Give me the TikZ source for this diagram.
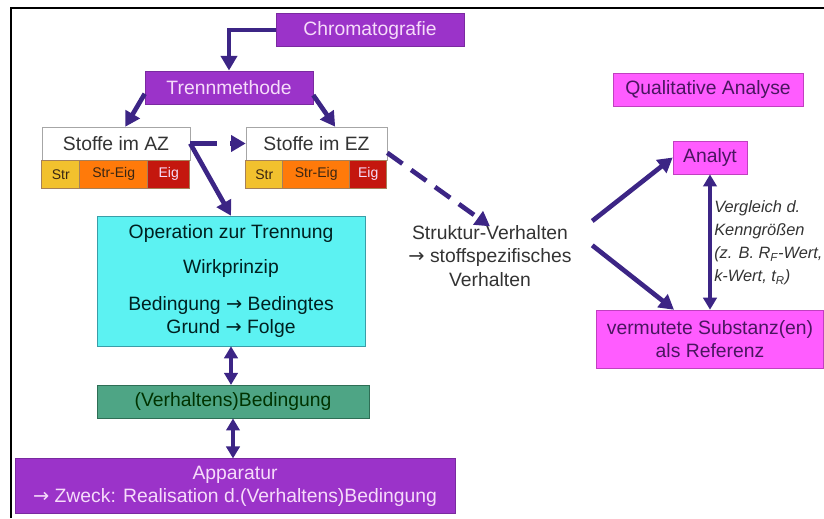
\documentclass[tikz,border=0pt]{standalone}
\usepackage{fontspec}
\setmainfont{Liberation Sans}
\newfontfamily\arrowfont{DejaVu Sans}
\usepackage{tikz}
\usetikzlibrary{arrows.meta, positioning}
\definecolor{chrompurple}{HTML}{9B33C9}
\definecolor{chromedge}{HTML}{7A2AA0}
\definecolor{pinktext}{HTML}{F6DCFA}
\definecolor{magentabox}{HTML}{FF5CFF}
\definecolor{magentaedge}{HTML}{C040C0}
\definecolor{darkviolet}{HTML}{4A1660}
\definecolor{cyanbox}{HTML}{5CF2F2}
\definecolor{cyanedge}{HTML}{3A9EA8}
\definecolor{greenbox}{HTML}{4EA585}
\definecolor{greenedge}{HTML}{2E6E55}
\definecolor{arrowblue}{HTML}{3C2585}
\definecolor{strcol}{HTML}{F2C12E}
\definecolor{streigcol}{HTML}{FF7A0A}
\definecolor{eigcol}{HTML}{C4170E}
\newcommand\bigtxt{\fontsize{14.5}{17.4}\selectfont}
\newcommand\bartxt{\fontsize{10.5}{12}\selectfont}
\newcommand\notetxt{\fontsize{12.3}{17.3}\selectfont\itshape}
\newcommand\toarr{{\arrowfont →}}

\begin{document}
\begin{tikzpicture}[
    x=0.75pt, y=-0.75pt,
    every node/.style={font=\bigtxt},
    purplebox/.style={rectangle, draw=chromedge, fill=chrompurple, text=pinktext, minimum height=25pt, inner sep=2pt},
    pinkbox/.style={rectangle, draw=magentaedge, fill=magentabox, text=darkviolet, minimum height=25pt, inner sep=2pt},
    whitebox/.style={rectangle, draw=gray!70, fill=white, text=black!80, minimum height=24.75pt},
    opbox/.style={rectangle, draw=cyanedge, fill=cyanbox, text=black!75!teal, align=center},
    greenbox/.style={rectangle, draw=greenedge, fill=greenbox, text=black!80!green, minimum height=24.75pt},
    colbar/.style={rectangle, draw=brown!60!gray, minimum height=21pt, inner sep=0pt, outer sep=0pt, font=\bartxt},
    arrow/.style={-{Triangle[length=11pt, width=12pt]}, line width=3.5pt, draw=arrowblue},
    dblarrow/.style={{Triangle[length=9pt, width=10pt]}-{Triangle[length=9pt, width=10pt]}, line width=3pt, draw=arrowblue}
]
\useasboundingbox (0,0) rectangle (824,518);
\draw[line width=2.2pt, black] (11,518) -- (11,8) -- (824,8);

% Nodes
\node[purplebox, minimum width=141pt] (chrom) at (370,30) {Chromatografie};
\node[purplebox, minimum width=126pt] (trenn) at (229,87.5) {Trennmethode};

\node[whitebox, minimum width=111pt] (az) at (116,143.5) {Stoffe im AZ};
\node[colbar, fill=strcol, text=black!70!brown, minimum width=28.5pt, below right=0pt and 0pt of az.south west] (azstr) {Str};
\node[colbar, fill=streigcol, text=black!70!brown, minimum width=51pt, right=0pt of azstr] (azstreig) {Str-Eig};
\node[colbar, fill=eigcol, text=pinktext, minimum width=31.5pt, right=0pt of azstreig] (azeig) {Eig};

\node[whitebox, minimum width=105.75pt] (ez) at (316.5,143.5) {Stoffe im EZ};
\node[colbar, fill=strcol, text=black!70!brown, minimum width=27.75pt, below right=0pt and 0pt of ez.south west] (ezstr) {Str};
\node[colbar, fill=streigcol, text=black!70!brown, minimum width=50.25pt, right=0pt of ezstr] (ezstreig) {Str-Eig};
\node[colbar, fill=eigcol, text=pinktext, minimum width=27.75pt, right=0pt of ezstreig] (ezeig) {Eig};

\node[opbox, minimum width=201pt, minimum height=97.5pt] (op) at (231,281)
    {Operation zur Trennung\\[9pt] Wirkprinzip\\[10pt] Bedingung \toarr{} Bedingtes\\ Grund \toarr{} Folge};
\node[greenbox, minimum width=204pt, below=29pt of op, xshift=1.5pt] (verh) {(Verhaltens)Bedingung};
\node[purplebox, minimum width=330pt, minimum height=41.25pt, align=center, below=30pt of verh, xshift=1.5pt] (app)
    {Apparatur\\ \toarr{} Zweck: Realisation d.(Verhaltens)Bedingung};

\node[text=black!80, align=center] (struk) at (490,256) {Struktur-Verhalten\\ \toarr{} stoffspezifisches\\ Verhalten};

\node[pinkbox, minimum width=142.5pt] (qual) at (708,89.5) {Qualitative Analyse};
\node[pinkbox, minimum width=55.5pt] (analyt) at (710,157.5) {Analyt};
\node[pinkbox, minimum width=170.25pt, minimum height=43.5pt, align=center, inner sep=1pt] (subst) at (710,339)
    {vermutete Substanz(en)\\ als Referenz};
\node[font=\notetxt, text=black!80, anchor=west, align=left, inner sep=0pt] (vgl) at (714,243)
    {Vergleich d.\\ Kenngrößen\\ (z. B. R\textsubscript{F}-Wert,\\ k-Wert, t\textsubscript{R})};

% Arrows
\draw[arrow] (chrom.west) -| (trenn.north);
\draw[arrow] ([yshift=8pt]trenn.south west) -- ([xshift=7pt]az.north);
\draw[arrow] ([yshift=7pt]trenn.south east) -- ([xshift=14pt]ez.north);
\draw[arrow, dash pattern=on 20pt off 10pt] (az.east) -- (ez.west);
\draw[arrow] (az.east) -- (op.north);
\draw[arrow, dash pattern=on 14pt off 8pt] ([yshift=-7pt]ez.east) -- ([yshift=-4pt]struk.north);
\draw[arrow] ([xshift=12pt]struk.north east) -- (analyt.west);
\draw[arrow] ([xshift=12pt, yshift=8pt]struk.east) -- ([xshift=-27pt]subst.north);
\draw[dblarrow] (analyt.south) -- (subst.north);
\draw[dblarrow] (op.south) -- (op.south |- verh.north);
\draw[dblarrow] (verh.south) -- (verh.south |- app.north);

\end{tikzpicture}
\end{document}
